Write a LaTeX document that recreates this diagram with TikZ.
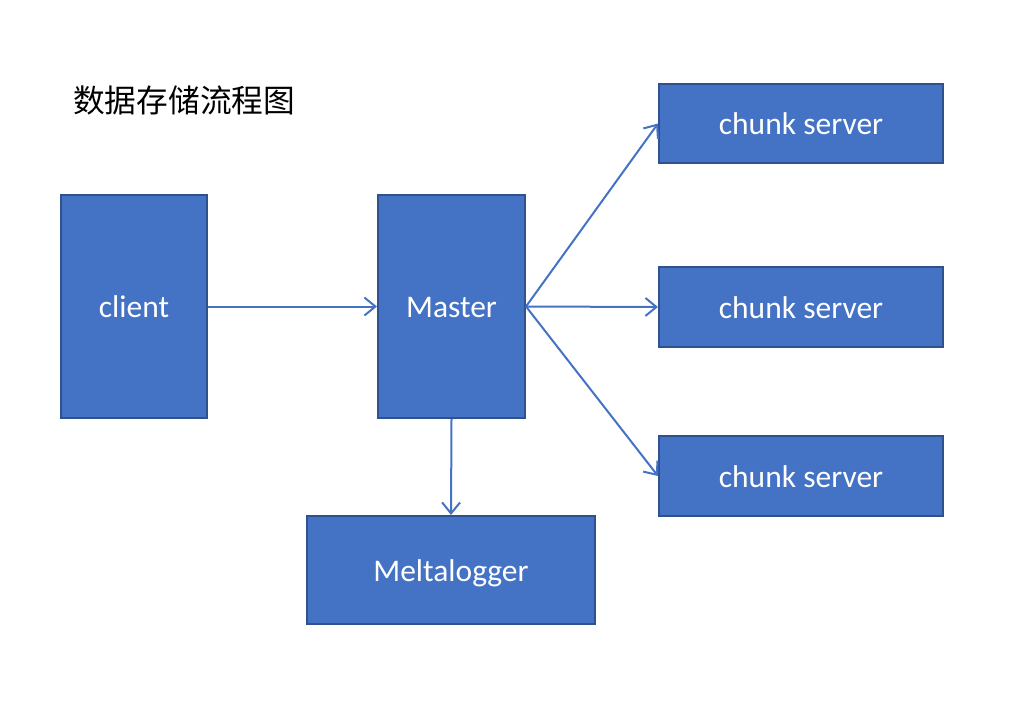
\documentclass[tikz,border=0pt]{standalone}
\usepackage{fontspec}
\setmainfont{Carlito}
\newfontfamily\cjk{Noto Sans CJK SC}
\usetikzlibrary{arrows.meta}
\definecolor{boxfill}{HTML}{4472C4}
\definecolor{boxline}{HTML}{2F528F}
\definecolor{arrowc}{HTML}{4472C4}
\begin{document}
\begin{tikzpicture}[x=1pt,y=-1pt,
  blk/.style={draw=boxline,fill=boxfill,line width=2pt,text=white,inner sep=0pt,
    font=\fontsize{31.5}{34}\selectfont,text height=22pt,text depth=0pt},
  conn/.style={draw=arrowc,line width=2pt,-{Straight Barb[length=11pt,width=18pt,line width=2pt]}}]
\useasboundingbox (0,0) rectangle (1016,723);
\node[anchor=west,inner sep=0pt,font=\cjk\fontsize{31.7}{34}\selectfont] (title) at (73,100) {数据存储流程图};
\node[blk,minimum width=146pt,minimum height=223pt] (client) at (134,306.5) {client};
\node[blk,minimum width=147pt,minimum height=223pt] (master) at (451.5,306.5) {Master};
\node[blk,minimum width=284pt,minimum height=79pt] (c1) at (801,123.5) {chunk server};
\node[blk,minimum width=284pt,minimum height=80pt] (c2) at (801,307) {chunk server};
\node[blk,minimum width=284pt,minimum height=80pt] (c3) at (801,476) {chunk server};
\node[blk,minimum width=288pt,minimum height=108pt] (melt) at (451,570) {Meltalogger};
\draw[conn] (client.east) -- (master.west);
\draw[conn] (master.east) -- (c1.west);
\draw[conn] (master.east) -- (c2.west);
\draw[conn] (master.east) -- (c3.west);
\draw[conn] (master.south) -- (melt.north);
\end{tikzpicture}
\end{document}
